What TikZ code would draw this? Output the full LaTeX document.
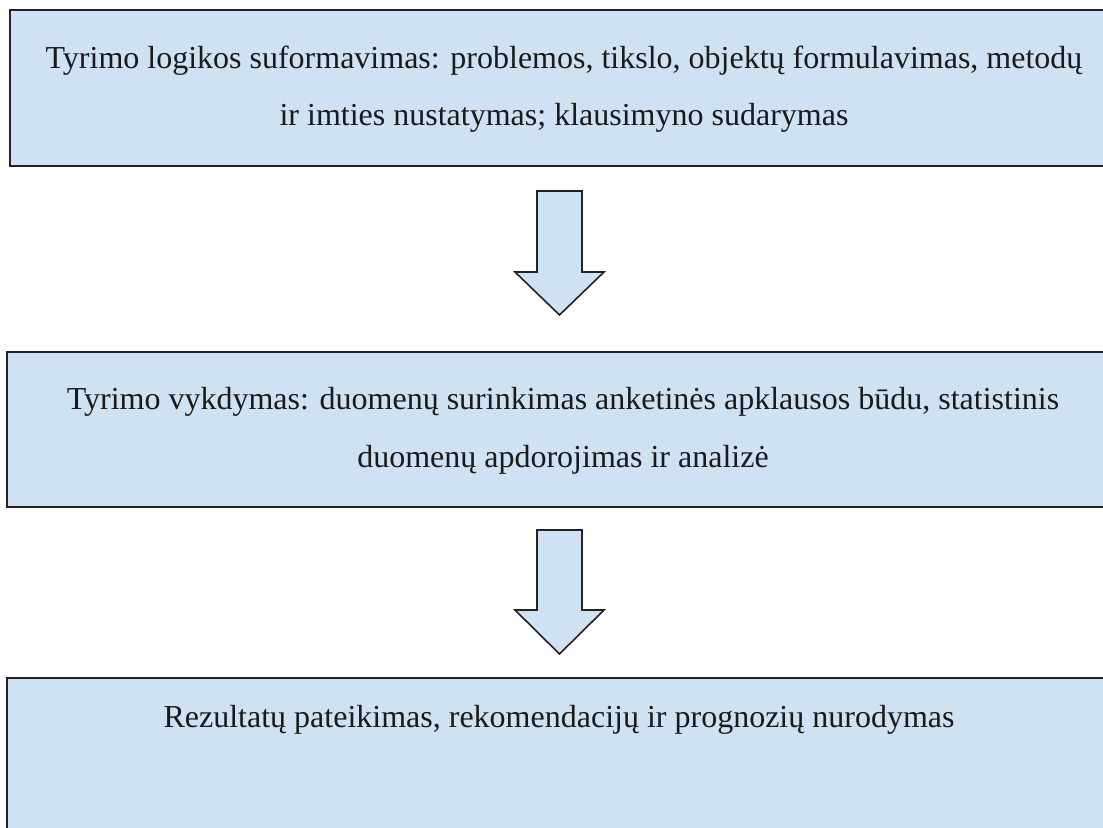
\documentclass[tikz,border=0pt]{standalone}
\usepackage{fontspec}
\setmainfont{Liberation Serif}
\definecolor{boxfill}{HTML}{CFE2F3}
\definecolor{boxline}{HTML}{222222}
\definecolor{txt}{HTML}{1A1A1A}
\begin{document}
\begin{tikzpicture}[x=0.5pt,y=-0.5pt,
  box/.style={draw=boxline, fill=boxfill, line width=1.1pt, rectangle, anchor=north west, outer sep=0pt, inner sep=0pt},
  label/.style={text=txt, align=center, anchor=base, inner sep=0pt, font={\fontsize{16}{28.5}\selectfont}},
  blockarrow/.style={draw=boxline, fill=boxfill, line width=0.8pt, line join=miter}
]
\useasboundingbox (0,0) rectangle (1103,828);
\clip (0,0) rectangle (1103,828);
\fill[white] (0,0) rectangle (1103,828);

\node[box, minimum width=554pt, minimum height=78pt] (b1) at (10,10) {};
\node[box, minimum width=556pt, minimum height=77.5pt] (b2) at (7,352) {};
\node[box, minimum width=556pt, minimum height=111pt] (b3) at (7,678) {};

% base anchor of a two-line node is the baseline of its last line
\node[label] (t1) at (564,126) {Tyrimo logikos suformavimas: problemos, tikslo, objektų formulavimas, metodų\\ir imties nustatymas; klausimyno sudarymas};
\node[label] (t2) at (563,467) {Tyrimo vykdymas: duomenų surinkimas anketinės apklausos būdu, statistinis\\duomenų apdorojimas ir analizė};
\node[label] (t3) at (559,727) {Rezultatų pateikimas, rekomendacijų ir prognozių nurodymas};

\draw[blockarrow] (537,191) -- (582,191) -- (582,272) -- (604,272) -- (559.5,315) -- (515,272) -- (537,272) -- cycle;
\draw[blockarrow] (537,530) -- (582,530) -- (582,610) -- (604,610) -- (559.5,654) -- (515,610) -- (537,610) -- cycle;
\end{tikzpicture}
\end{document}
